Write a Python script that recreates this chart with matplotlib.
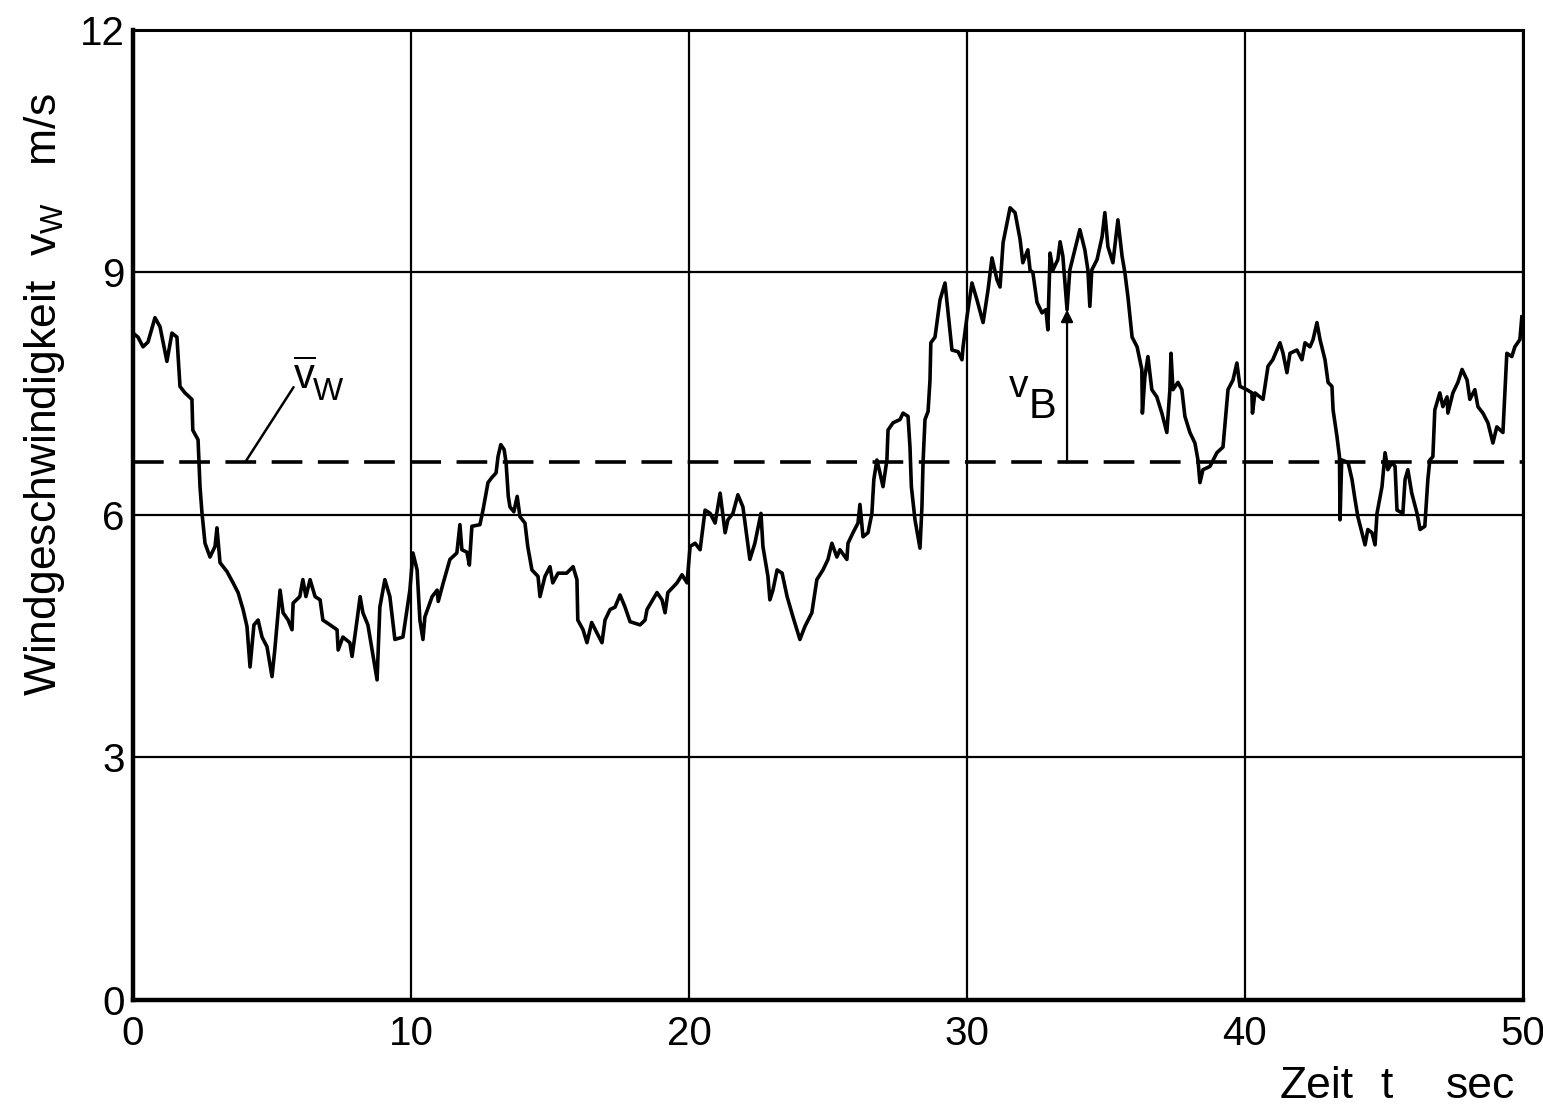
import matplotlib
matplotlib.use('Agg')
import matplotlib.pyplot as plt

# Windgeschwindigkeit ueber der Zeit (t in s, v in m/s)
t_s = [
    0.00, 0.18, 0.36, 0.54, 0.79, 0.97, 1.22, 1.40, 1.58, 1.69, 1.87, 2.12, 2.15, 2.34, 2.41, 2.48,
    2.59, 2.77, 2.95, 3.02, 3.13, 3.38, 3.60, 3.78, 3.96, 4.10, 4.21, 4.35, 4.50, 4.64, 4.82, 5.00,
    5.10, 5.29, 5.40, 5.58, 5.72, 5.76, 6.00, 6.11, 6.22, 6.37, 6.55, 6.73, 6.83, 7.09, 7.34, 7.38,
    7.55, 7.80, 7.88, 8.06, 8.17, 8.27, 8.45, 8.60, 8.78, 8.88, 9.06, 9.24, 9.42, 9.71, 9.96, 10.07,
    10.22, 10.32, 10.43, 10.50, 10.76, 10.94, 10.98, 11.16, 11.40, 11.65, 11.76, 11.83, 12.01, 12.10,
    12.19, 12.48, 12.59, 12.77, 12.90, 13.06, 13.13, 13.23, 13.35, 13.42, 13.50, 13.56, 13.70, 13.82,
    13.92, 14.10, 14.20, 14.35, 14.57, 14.64, 14.82, 15.00, 15.10, 15.29, 15.60, 15.83, 15.97, 16.00,
    16.19, 16.33, 16.50, 16.69, 16.87, 16.98, 17.16, 17.34, 17.52, 17.70, 17.88, 18.24, 18.42, 18.49,
    18.85, 19.03, 19.14, 19.24, 19.57, 19.75, 19.93, 20.04, 20.22, 20.40, 20.58, 20.76, 20.94, 21.12,
    21.30, 21.40, 21.58, 21.76, 21.94, 22.19, 22.37, 22.59, 22.66, 22.84, 22.91, 23.02, 23.17, 23.35,
    23.53, 23.74, 23.99, 24.17, 24.42, 24.60, 24.82, 25.00, 25.14, 25.32, 25.43, 25.68, 25.72, 25.90,
    26.08, 26.15, 26.26, 26.44, 26.58, 26.65, 26.76, 26.87, 26.98, 27.12, 27.16, 27.34, 27.59, 27.70,
    27.88, 27.95, 28.00, 28.13, 28.31, 28.38, 28.42, 28.49, 28.60, 28.67, 28.70, 28.85, 29.03, 29.21,
    29.32, 29.46, 29.68, 29.82, 29.86, 30.00, 30.18, 30.36, 30.58, 30.76, 30.90, 31.08, 31.19, 31.30,
    31.55, 31.73, 31.91, 32.01, 32.19, 32.27, 32.37, 32.52, 32.70, 32.84, 32.91, 32.99, 33.09, 33.27,
    33.35, 33.45, 33.60, 33.70, 33.88, 34.06, 34.24, 34.35, 34.42, 34.49, 34.68, 34.86, 34.96, 35.07,
    35.25, 35.43, 35.58, 35.68, 35.79, 35.94, 36.12, 36.29, 36.31, 36.40, 36.51, 36.65, 36.83, 37.01,
    37.19, 37.30, 37.34, 37.41, 37.59, 37.73, 37.84, 38.02, 38.20, 38.31, 38.38, 38.49, 38.74, 38.99,
    39.21, 39.39, 39.57, 39.71, 39.82, 40.07, 40.25, 40.27, 40.36, 40.65, 40.83, 41.00, 41.26, 41.37,
    41.51, 41.62, 41.87, 42.05, 42.16, 42.34, 42.45, 42.59, 42.70, 42.88, 42.99, 43.13, 43.17, 43.31,
    43.40, 43.42, 43.48, 43.71, 43.85, 43.96, 44.06, 44.21, 44.32, 44.42, 44.57, 44.68, 44.75, 44.93,
    45.04, 45.14, 45.29, 45.40, 45.47, 45.68, 45.76, 45.86, 46.00, 46.19, 46.30, 46.47, 46.58, 46.65,
    46.76, 46.83, 47.01, 47.12, 47.27, 47.30, 47.48, 47.66, 47.81, 47.99, 48.09, 48.27, 48.38, 48.56,
    48.74, 48.92, 49.06, 49.28, 49.42, 49.60, 49.71, 49.89, 49.96,
]
v_w = [
    8.25, 8.20, 8.08, 8.14, 8.44, 8.33, 7.90, 8.25, 8.20, 7.59, 7.51, 7.43, 7.05, 6.93, 6.35, 6.03,
    5.65, 5.48, 5.61, 5.84, 5.41, 5.30, 5.16, 5.04, 4.83, 4.62, 4.12, 4.64, 4.70, 4.49, 4.37, 4.00,
    4.33, 5.07, 4.79, 4.70, 4.58, 4.91, 4.99, 5.20, 4.99, 5.20, 4.99, 4.95, 4.70, 4.64, 4.58, 4.33,
    4.49, 4.42, 4.25, 4.70, 4.99, 4.79, 4.64, 4.33, 3.96, 4.86, 5.20, 4.99, 4.46, 4.49, 5.07, 5.53,
    5.32, 4.70, 4.46, 4.74, 4.99, 5.07, 4.93, 5.16, 5.45, 5.53, 5.88, 5.57, 5.54, 5.38,
    5.86, 5.88, 6.06, 6.40, 6.46, 6.52, 6.72, 6.87, 6.81, 6.65, 6.23, 6.10, 6.04, 6.23,
    5.98, 5.90, 5.61, 5.32, 5.24, 4.99, 5.24, 5.36, 5.16, 5.28, 5.28, 5.36, 5.20, 4.70,
    4.58, 4.42, 4.67, 4.54, 4.42, 4.70, 4.83, 4.86, 5.01, 4.86, 4.68, 4.64, 4.70, 4.83,
    5.04, 4.95, 4.79, 5.04, 5.16, 5.26, 5.16, 5.61, 5.65, 5.57, 6.06, 6.02, 5.90, 6.27,
    5.78, 5.94, 6.02, 6.25, 6.10, 5.45, 5.65, 6.02, 5.61, 5.24, 4.95, 5.07, 5.32, 5.28,
    4.99, 4.74, 4.46, 4.62, 4.79, 5.20, 5.32, 5.45, 5.65, 5.48, 5.57, 5.45, 5.65, 5.78,
    5.90, 6.13, 5.73, 5.78, 6.02, 6.44, 6.68, 6.52, 6.35, 6.68, 7.05, 7.14, 7.18, 7.26,
    7.22, 6.84, 6.35, 5.94, 5.59, 6.10, 6.65, 7.18, 7.28, 7.67, 8.13, 8.20, 8.66, 8.87,
    8.50, 8.04, 8.02, 7.92, 8.08, 8.45, 8.87, 8.66, 8.38, 8.79, 9.18, 8.91, 8.82, 9.37,
    9.80, 9.74, 9.41, 9.12, 9.28, 9.03, 9.00, 8.63, 8.50, 8.54, 8.29, 9.24, 9.03, 9.16,
    9.38, 9.20, 8.54, 9.03, 9.28, 9.53, 9.28, 9.03, 8.58, 9.03, 9.16, 9.44, 9.74, 9.32,
    9.12, 9.65, 9.20, 9.00, 8.70, 8.20, 8.08, 7.80, 7.26, 7.71, 7.96, 7.55, 7.46, 7.26,
    7.02, 7.55, 8.00, 7.55, 7.64, 7.55, 7.22, 7.02, 6.89, 6.68, 6.40, 6.56, 6.60, 6.77,
    6.84, 7.55, 7.67, 7.88, 7.59, 7.55, 7.51, 7.26, 7.51, 7.43, 7.84, 7.92, 8.13, 8.00,
    7.76, 8.00, 8.04, 7.92, 8.13, 8.08, 8.17, 8.38, 8.17, 7.92, 7.64, 7.59, 7.30, 6.97,
    6.72, 5.94, 6.68, 6.65, 6.44, 6.19, 5.98, 5.78, 5.63, 5.82, 5.78, 5.63, 6.02, 6.35,
    6.77, 6.56, 6.65, 6.60, 6.06, 6.02, 6.44, 6.56, 6.27, 6.02, 5.82, 5.86, 6.44, 6.68,
    6.72, 7.30, 7.51, 7.34, 7.46, 7.26, 7.51, 7.64, 7.80, 7.67, 7.43, 7.55, 7.34, 7.26,
    7.14, 6.89, 7.09, 7.02, 8.00, 7.96, 8.08, 8.17, 8.45,
]

v_mean = 6.65          # Mittelwert der Windgeschwindigkeit
vb_t = 33.60           # Zeitpunkt der Boee
vb_peak = 8.54         # Boeenspitze an dieser Stelle

x_ticks = [0, 10, 20, 30, 40, 50]
y_ticks = [0, 3, 6, 9, 12]

plt.rcParams['font.family'] = ['Liberation Sans', 'DejaVu Sans']
plt.rcParams['mathtext.fontset'] = 'custom'
plt.rcParams['mathtext.rm'] = 'Liberation Sans'

fig = plt.figure(figsize=(15.43, 11.09), dpi=100)
ax = fig.add_axes([0.0862, 0.0983, 0.9008, 0.8747])

ax.plot(t_s, v_w, color='black', lw=2.6, solid_joinstyle='round')
ax.axhline(v_mean, color='black', lw=2.6, dashes=(8.5, 4.3))

ax.set_xlim(0, 50)
ax.set_ylim(0, 12)
ax.set_xticks(x_ticks)
ax.set_yticks(y_ticks)
ax.tick_params(axis='both', length=0, labelsize=29)
ax.tick_params(axis='x', pad=11)
ax.tick_params(axis='y', pad=6)
ax.grid(True, color='black', lw=1.6)
for side in ['top', 'right']:
    ax.spines[side].set_linewidth(2.2)
for side in ['left', 'bottom']:
    ax.spines[side].set_linewidth(3.2)

# Beschriftung Mittelwert
ax.annotate('', xy=(5.83, 7.61), xytext=(4.03, v_mean),
            arrowprops=dict(arrowstyle='-', color='black', lw=1.8))
ax.text(6.15, 7.70, r'$\overline{\mathrm{v}}$', fontsize=30, ha='center', va='center')
ax.text(7.0, 7.52, 'W', fontsize=23, ha='center', va='center')

# Boeenanteil
ax.annotate('', xy=(vb_t, vb_peak), xytext=(vb_t, v_mean),
            arrowprops=dict(arrowstyle='-|>', color='black', lw=1.6,
                            mutation_scale=18, shrinkA=0, shrinkB=0))
ax.text(31.85, 7.58, 'v', fontsize=28, ha='center', va='center')
ax.text(32.73, 7.34, 'B', fontsize=30, ha='center', va='center')

fig.text(0.029, 0.644, r'Windgeschwindigkeit  $\mathrm{v_W}$   m/s', rotation=90,
         fontsize=32, ha='center', va='center')
fig.text(1280 / 1543, 0.02, 'Zeit', fontsize=32, ha='left', va='center')
fig.text(1387 / 1543, 0.02, 't', fontsize=32, ha='center', va='center')
fig.text(1480 / 1543, 0.02, 'sec', fontsize=32, ha='center', va='center')

plt.savefig('out.png', dpi=100)
